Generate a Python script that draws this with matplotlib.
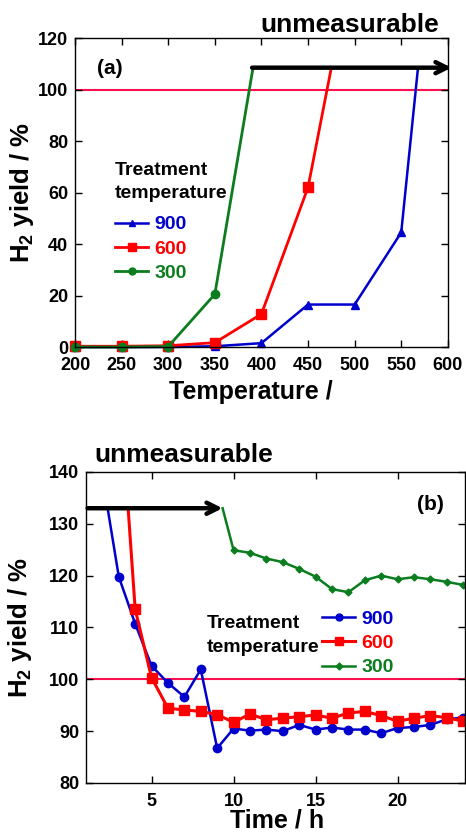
import matplotlib; matplotlib.use("Agg")
import matplotlib.pyplot as plt
from matplotlib.lines import Line2D

plt.rcParams['font.family'] = ['Liberation Sans', 'DejaVu Sans']
plt.rcParams['font.weight'] = 'bold'
plt.rcParams['mathtext.fontset'] = 'custom'
plt.rcParams['mathtext.rm'] = 'Liberation Sans:bold'
plt.rcParams['mathtext.default'] = 'rm'

# ---- data: (a) yield vs reaction temperature -------------------------------
temp = [200, 250, 300, 350, 400, 450, 500, 550]
y900_a = [0.0, 0.0, 0.0, 0.3, 1.5, 16.5, 16.5, 44.5]
y600_a = [0.3, 0.3, 0.5, 1.7, 12.8, 62.0]
y300_a = [0.0, 0.0, 0.2, 20.5]
# where each curve leaves the measurable range (no marker there)
cut_a = {"900": 568, "600": 475, "300": 391}
cut_y_a = 108.5

# ---- data: (b) yield vs time -----------------------------------------------
t900 = [2.32, 3, 4, 5, 6, 7, 8, 9, 10, 11, 12, 13, 14, 15, 16, 17, 18, 19, 20, 21, 22, 23, 24]
y900_b = [133, 119.8, 110.7, 102.6, 99.3, 96.6, 101.9, 86.7, 90.5, 90.1, 90.3, 90.0, 91.2,
          90.3, 90.7, 90.3, 90.3, 89.6, 90.6, 90.8, 91.2, 92.3, 92.6]
t600 = [3.57, 4, 5, 6, 7, 8, 9, 10, 11, 12, 13, 14, 15, 16, 17, 18, 19, 20, 21, 22, 23, 24]
y600_b = [133, 113.5, 100.3, 94.4, 94.1, 93.8, 93.2, 91.7, 93.3, 92.2, 92.5, 92.8, 93.1,
          92.5, 93.5, 93.8, 93.0, 91.9, 92.5, 93.0, 92.6, 91.9]
t300 = [9.33, 10, 11, 12, 13, 14, 15, 16, 17, 18, 19, 20, 21, 22, 23, 24]
y300_b = [133, 124.9, 124.4, 123.3, 122.6, 121.3, 119.8, 117.4, 116.8, 119.1, 120.0,
          119.3, 119.7, 119.3, 118.8, 118.2]
arrow_b = (1.1, 9.33, 133)

BLUE, RED, GREEN, PINK = "#0000cc", "#ff0000", "#0b7d1f", "#ff1050"

fig = plt.figure(figsize=(4.66, 8.35), dpi=100)
axa = fig.add_axes([0.161, 0.5844, 0.800, 0.370])
axb = fig.add_axes([0.1845, 0.0623, 0.813, 0.3725])

for ax in (axa, axb):
    ax.tick_params(direction='in', top=True, right=True, length=5, width=1,
                   labelsize=13, pad=5)
    ax.tick_params(axis='x', pad=7)
    for s in ax.spines.values():
        s.set_linewidth(1)

# ---- panel (a) --------------------------------------------------------------
axa.plot(temp + [cut_a["900"]], y900_a + [cut_y_a], color=BLUE, lw=1.8, marker='^',
         ms=6, markevery=slice(0, len(temp)), clip_on=False)
axa.plot(temp[:len(y600_a)] + [cut_a["600"]], y600_a + [cut_y_a], color=RED, lw=2,
         marker='s', ms=6.5, markevery=slice(0, len(y600_a)), clip_on=False)
axa.plot(temp[:len(y300_a)] + [cut_a["300"]], y300_a + [cut_y_a], color=GREEN, lw=2,
         marker='o', ms=6, markevery=slice(0, len(y300_a)), clip_on=False)
axa.axhline(100, color=PINK, lw=1.5, zorder=1)
axa.annotate('', xy=(604, cut_y_a), xytext=(cut_a["300"] - 1, cut_y_a),
             arrowprops=dict(arrowstyle='->', lw=3.2, color='black', mutation_scale=20,
                             shrinkA=0, shrinkB=0), annotation_clip=False)
axa.set_xlim(200, 600)
axa.set_ylim(0, 120)
axa.set_xticks(range(200, 601, 50))
axa.set_yticks(range(0, 121, 20))
axa.text(0.094, 0.903, '(a)', transform=axa.transAxes, fontsize=15, ha='center', va='center')
axa.text(0.107, 0.57, 'Treatment', transform=axa.transAxes, fontsize=14, va='center')
axa.text(0.107, 0.498, 'temperature', transform=axa.transAxes, fontsize=14, va='center')
hs = [Line2D([], [], color=BLUE, lw=1.8, marker='^', ms=5),
      Line2D([], [], color=RED, lw=2, marker='s', ms=5.5),
      Line2D([], [], color=GREEN, lw=2, marker='o', ms=5)]
axa.legend(hs, ['900', '600', '300'], loc='upper left', bbox_to_anchor=(0.108, 0.425),
           frameon=False, fontsize=14, handlelength=1.7, handletextpad=0.3,
           labelspacing=0.35, borderpad=0, borderaxespad=0, labelcolor='linecolor')

fig.text(0.751, 0.970, 'unmeasurable', fontsize=19, ha='center', va='center')
fig.text(0.539, 0.531, 'Temperature /', fontsize=18, ha='center', va='center')
fig.text(0.047, 0.769, r'H$_2$ yield / %', fontsize=18.5, ha='center', va='center', rotation=90)

# ---- panel (b) --------------------------------------------------------------
axb.plot(t900, y900_b, color=BLUE, lw=1.8, marker='o', ms=6, markevery=slice(1, None))
axb.plot(t600, y600_b, color=RED, lw=2.2, marker='s', ms=6.5, markevery=slice(1, None))
axb.plot(t300, y300_b, color=GREEN, lw=1.8, marker='D', ms=3.5, markevery=slice(1, None))
axb.axhline(100, color=PINK, lw=1.5, zorder=1)
axb.annotate('', xy=(arrow_b[1], arrow_b[2]), xytext=(arrow_b[0], arrow_b[2]),
             arrowprops=dict(arrowstyle='->', lw=3.2, color='black', mutation_scale=20,
                             shrinkA=0, shrinkB=0))
axb.set_xlim(1, 24.1)
axb.set_ylim(80, 140)
axb.set_xticks([5, 10, 15, 20])
axb.set_yticks(range(80, 141, 10))
axb.text(0.908, 0.894, '(b)', transform=axb.transAxes, fontsize=15, ha='center', va='center')
axb.text(0.319, 0.514, 'Treatment', transform=axb.transAxes, fontsize=14, va='center')
axb.text(0.319, 0.437, 'temperature', transform=axb.transAxes, fontsize=14, va='center')
hs = [Line2D([], [], color=BLUE, lw=1.8, marker='o', ms=5),
      Line2D([], [], color=RED, lw=2.2, marker='s', ms=5.5),
      Line2D([], [], color=GREEN, lw=1.8, marker='D', ms=3.5)]
axb.legend(hs, ['900', '600', '300'], loc='upper left', bbox_to_anchor=(0.624, 0.556),
           frameon=False, fontsize=14, handlelength=1.7, handletextpad=0.3,
           labelspacing=0.35, borderpad=0, borderaxespad=0, labelcolor='linecolor')

fig.text(0.394, 0.455, 'unmeasurable', fontsize=19, ha='center', va='center')
fig.text(0.594, 0.003, 'Time / h', fontsize=18, ha='center', va='bottom')
fig.text(0.043, 0.248, r'H$_2$ yield / %', fontsize=18.5, ha='center', va='center', rotation=90)

fig.savefig('out.png', dpi=100)
